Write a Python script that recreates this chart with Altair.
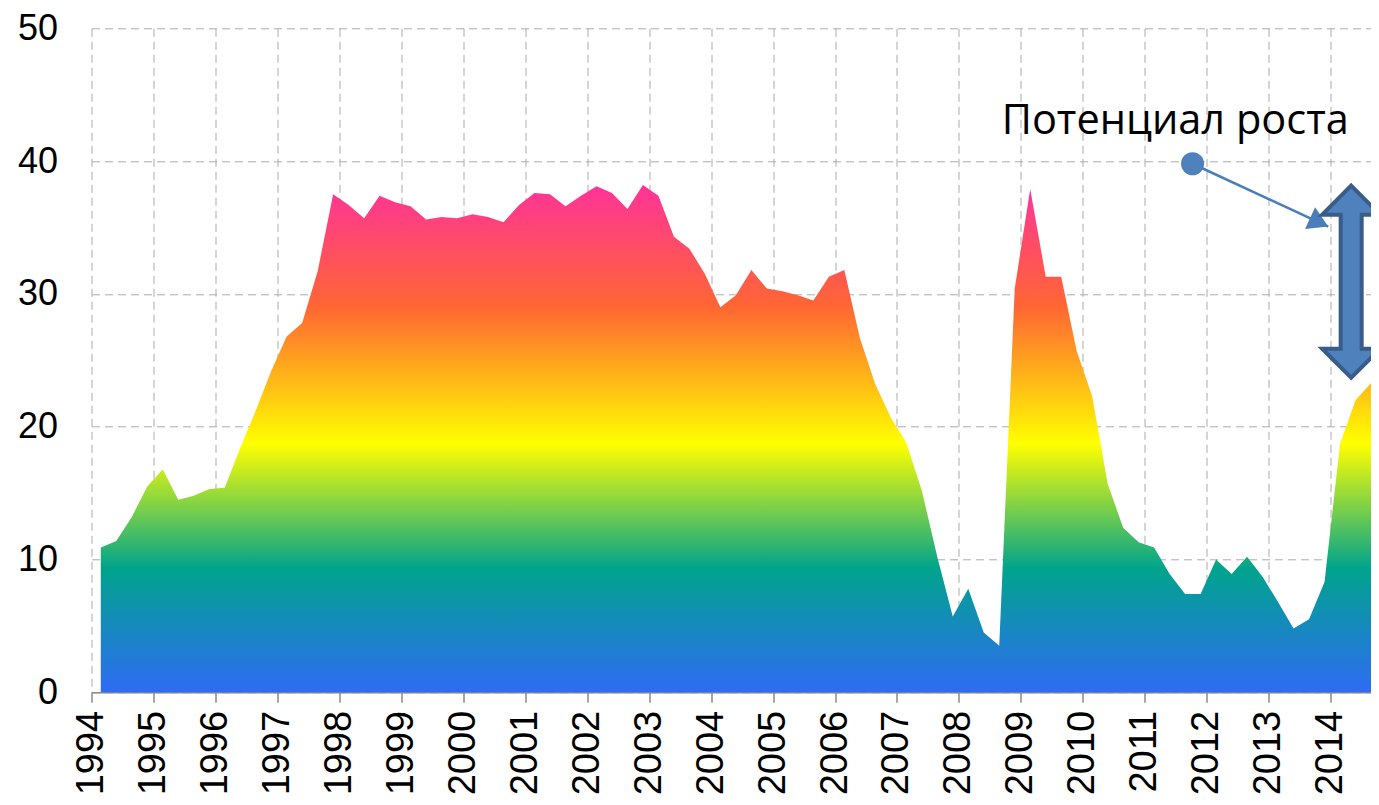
import altair as alt
import pandas as pd

first_obs = 1994.15          # decimal year of the first observation
obs_step = 0.25              # quarterly
values = [
    10.9, 11.4, 13.2, 15.5, 16.8, 14.5, 14.8, 15.3, 15.4, 18.4,
    21.2, 24.2, 26.8, 27.8, 31.7, 37.5, 36.7, 35.7, 37.4, 36.9,
    36.6, 35.6, 35.8, 35.7, 36.0, 35.8, 35.4, 36.7, 37.6, 37.5,
    36.6, 37.4, 38.1, 37.6, 36.4, 38.2, 37.4, 34.3, 33.4, 31.5,
    29.0, 29.9, 31.8, 30.4, 30.2, 29.9, 29.5, 31.3, 31.8, 26.7,
    23.2, 20.7, 18.8, 15.2, 10.2, 5.7, 7.8, 4.5, 3.5, 30.4,
    37.9, 31.3, 31.3, 25.7, 22.3, 15.7, 12.4, 11.3, 10.9, 8.9,
    7.4, 7.4, 10.0, 8.9, 10.2, 8.7, 6.8, 4.8, 5.5, 8.3,
    18.7, 22.0, 23.3,
]
year_ticks = list(range(1994, 2015))
y_ticks = [0, 10, 20, 30, 40, 50]

annot_text = ["Потенциал роста"]
annot_text_x = [2011.49]
annot_text_y = [42.05]
dot_x = [2011.77]
dot_y = [39.8]
tip_x = [2013.96]
tip_y = [35.07]
darrow_x = [2014.33]
darrow_y = [30.92]

x_dates = [round(first_obs + obs_step * i, 3) for i in range(len(values))]
df = pd.DataFrame({"year": x_dates, "value": values})

x_scale = alt.Scale(domain=[1994, 2014.65], nice=False, zero=False)
y_scale = alt.Scale(domain=[0, 50], nice=False, zero=True)

GRID = "#ABABAB"
x_axis = alt.Axis(values=year_ticks, format="d", title=None,
                  labelAngle=270, labelFont="Liberation Sans", labelFontSize=38,
                  labelColor="#000000", labelPadding=8,
                  tickSize=10, tickColor="#898989", tickWidth=1.5,
                  domainColor="#898989", domainWidth=1.5,
                  grid=True, gridColor=GRID, gridDash=[8, 5], gridWidth=1,
                  labelOverlap=False, labelFlush=False)
y_axis = alt.Axis(values=y_ticks, title=None, labelFont="Liberation Sans",
                  labelFontSize=36, labelColor="#000000", labelPadding=34,
                  ticks=False, domain=False,
                  grid=True, gridColor=GRID, gridDash=[8, 5], gridWidth=1)

grad = alt.Gradient(
    gradient="linear",
    stops=[
        alt.GradientStop(color="#2F6BF5", offset=0.0),
        alt.GradientStop(color="#00A48C", offset=0.245),
        alt.GradientStop(color="#FFFF00", offset=0.49),
        alt.GradientStop(color="#FF6633", offset=0.76),
        alt.GradientStop(color="#FF3399", offset=1.0),
    ],
    x1=1, x2=1, y1=1, y2=0,
)

area = alt.Chart(df).mark_area(interpolate="linear", color=grad, strokeWidth=0).encode(
    x=alt.X("year:Q", scale=x_scale, axis=x_axis),
    y=alt.Y("value:Q", scale=y_scale, axis=y_axis),
)

text_df = pd.DataFrame({"x": annot_text_x, "y": annot_text_y, "t": annot_text})
label = alt.Chart(text_df).mark_text(
    font="Open Sans", fontSize=41.5, align="center", baseline="alphabetic", color="#000000"
).encode(
    x=alt.X("x:Q", scale=x_scale, axis=x_axis),
    y=alt.Y("y:Q", scale=y_scale, axis=y_axis),
    text="t:N",
)

line_df = pd.DataFrame({"x": dot_x, "y": dot_y, "x2": tip_x, "y2": tip_y})
pointer = alt.Chart(line_df).mark_rule(color="#4A7EBB", strokeWidth=2.5).encode(
    x=alt.X("x:Q", scale=x_scale, axis=x_axis),
    y=alt.Y("y:Q", scale=y_scale, axis=y_axis),
    x2="x2:Q",
    y2="y2:Q",
)

dot_df = pd.DataFrame({"x": dot_x, "y": dot_y})
dot = alt.Chart(dot_df).mark_point(
    shape="circle", filled=True, size=530, fill="#4F81BD", opacity=1, strokeWidth=0
).encode(
    x=alt.X("x:Q", scale=x_scale, axis=x_axis),
    y=alt.Y("y:Q", scale=y_scale, axis=y_axis),
)

tip_df = pd.DataFrame({"x": tip_x, "y": tip_y})
arrowhead = alt.Chart(tip_df).mark_point(
    shape="M 0 0 L -20 -12 L -20 12 Z", size=4, filled=True, fill="#4A7EBB",
    opacity=1, strokeWidth=0, angle=24.8
).encode(
    x=alt.X("x:Q", scale=x_scale, axis=x_axis),
    y=alt.Y("y:Q", scale=y_scale, axis=y_axis),
)

darrow_df = pd.DataFrame({"x": darrow_x, "y": darrow_y})
double_arrow = alt.Chart(darrow_df).mark_point(
    shape=("M 0 -96 L 29 -67 L 10.5 -67 L 10.5 67 L 29 67 L 0 96 "
           "L -29 67 L -10.5 67 L -10.5 -67 L -29 -67 Z"),
    size=4, filled=True, fill="#4F81BD", stroke="#385D8A", strokeWidth=4,
    strokeJoin="miter", opacity=1
).encode(
    x=alt.X("x:Q", scale=x_scale, axis=x_axis),
    y=alt.Y("y:Q", scale=y_scale, axis=y_axis),
)

chart = alt.layer(area, label, pointer, dot, arrowhead, double_arrow).properties(
    width=1279.5,
    height=664,
    padding={"left": 83.5, "top": 20.3, "right": 0, "bottom": 104.7},
    autosize=alt.AutoSizeParams(type="none"),
    background="#FFFFFF",
).configure_view(strokeWidth=0)

chart.save("out.html", embed_options={"renderer": "svg", "actions": False})
